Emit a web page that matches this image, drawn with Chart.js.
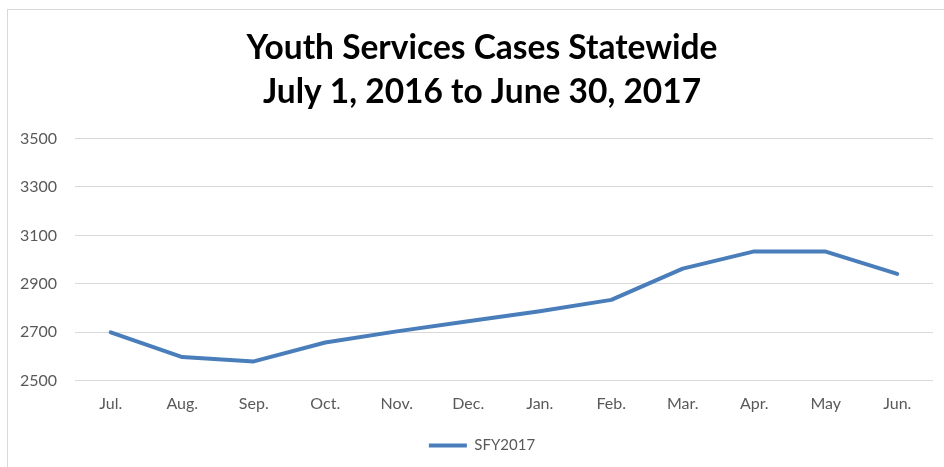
<!DOCTYPE html>
<html>
<head>
<meta charset="utf-8">
<title>Youth Services Cases Statewide</title>
<script src="https://cdn.jsdelivr.net/npm/chart.js@4/dist/chart.umd.min.js"></script>
<style>
  html, body { margin: 0; padding: 0; background: #fff; overflow: hidden; }
  .frame {
    position: absolute; left: 7px; top: 9px;
    width: 1000px; height: 1000px;
    border: 1px solid #d9d9d9;
  }
  .chart-container { position: absolute; left: 0; top: 0; width: 944px; height: 467px; }
</style>
</head>
<body>
<div class="frame"></div>
<div class="chart-container">
  <canvas id="casesChart" width="944" height="467"></canvas>
</div>
<script>
// monthly case counts, state fiscal year 2017
const months = ['Jul.', 'Aug.', 'Sep.', 'Oct.', 'Nov.', 'Dec.', 'Jan.', 'Feb.', 'Mar.', 'Apr.', 'May', 'Jun.'];
const sfy2017 = [2700, 2598, 2580, 2658, 2704, 2746, 2787, 2834, 2963, 3034, 3033, 2941];
const titleLines = ['Youth Services Cases Statewide', 'July 1, 2016 to June 30, 2017'];
const yMin = 2500;
const yMax = 3500;
const yStep = 200;

const axisGrey = '#595959';
const lineBlue = '#4a7ebb';
const labelFont = { family: 'Lato', size: 16 };

const ctx = document.getElementById('casesChart').getContext('2d');

const casesChart = new Chart(ctx, {
  type: 'line',
  data: {
    labels: months,
    datasets: [
      {
        label: 'SFY2017',
        data: sfy2017,
        borderColor: lineBlue,
        backgroundColor: lineBlue,
        borderWidth: 4,
        borderCapStyle: 'round',
        borderJoinStyle: 'round',
        tension: 0,
        pointRadius: 0,
        pointHoverRadius: 0,
        pointStyle: 'line',
        yAxisID: 'y',
      },
    ],
  },
  options: {
    responsive: false,
    animation: false,
    layout: {
      // the frame continues past the right edge, so the layout does too
      padding: { left: 0, right: -20, top: 0, bottom: 4 },
    },
    plugins: {
      title: {
        display: true,
        text: titleLines,
        color: '#000',
        font: { family: 'Lato', size: 33.5, weight: 'bold', lineHeight: 1.32 },
        padding: { top: 26, bottom: 24 },
      },
      legend: {
        position: 'bottom',
        labels: {
          usePointStyle: true,
          pointStyleWidth: 38,
          color: axisGrey,
          font: { family: 'Lato', size: 15 },
          padding: 12,
        },
      },
      tooltip: { enabled: false },
    },
    scales: {
      x: {
        offset: true,
        grid: { display: false, drawTicks: false },
        border: { display: false },
        ticks: {
          color: axisGrey,
          font: labelFont,
          padding: 13,
          maxRotation: 0,
        },
      },
      y: {
        min: yMin,
        max: yMax,
        grid: { color: '#d9d9d9', lineWidth: 1, drawTicks: false },
        border: { display: false },
        ticks: {
          stepSize: yStep,
          color: axisGrey,
          font: labelFont,
          padding: 18,
          callback: (value) => String(value),
        },
        afterFit(scale) {
          scale.width = 75;
        },
      },
      // empty strip on the right, keeps the plot inside the visible area
      yRight: {
        position: 'right',
        min: yMin,
        max: yMax,
        grid: { display: false, drawTicks: false },
        border: { display: false },
        ticks: { display: false },
        afterFit(scale) {
          scale.width = 31;
        },
      },
    },
  },
});
</script>
</body>
</html>
